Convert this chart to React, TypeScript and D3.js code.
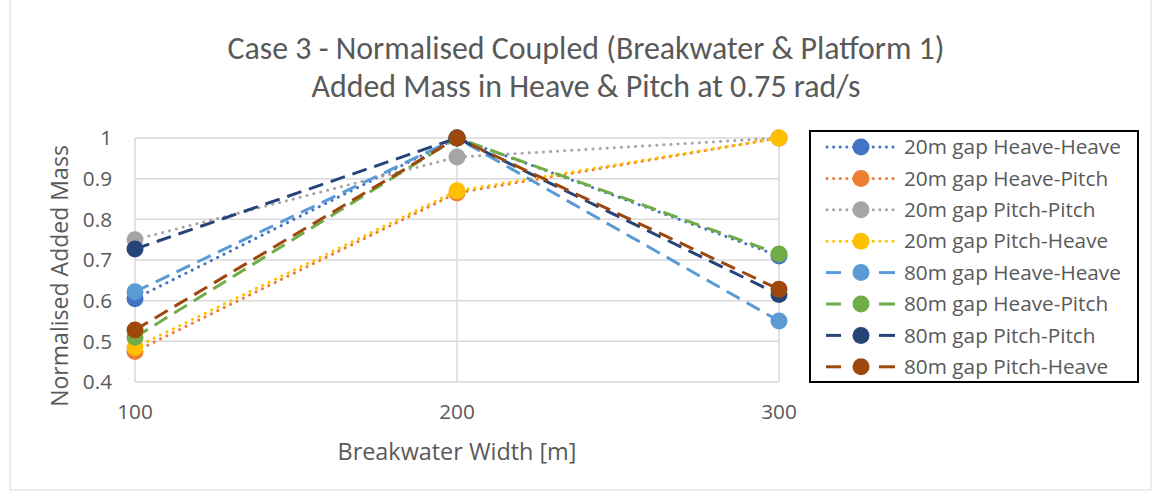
import { useRef, useEffect } from "react";
import * as d3 from "d3";

const widths = [100, 200, 300];
const seriesNames = [
  "20m gap Heave-Heave",
  "20m gap Heave-Pitch",
  "20m gap Pitch-Pitch",
  "20m gap Pitch-Heave",
  "80m gap Heave-Heave",
  "80m gap Heave-Pitch",
  "80m gap Pitch-Pitch",
  "80m gap Pitch-Heave",
];
const gap20HeaveHeave = [0.605, 1, 0.71];
const gap20HeavePitch = [0.475, 0.865, 1];
const gap20PitchPitch = [0.75, 0.953, 1];
const gap20PitchHeave = [0.485, 0.87, 1];
const gap80HeaveHeave = [0.622, 1, 0.55];
const gap80HeavePitch = [0.51, 1, 0.715];
const gap80PitchPitch = [0.727, 1, 0.615];
const gap80PitchHeave = [0.528, 1, 0.628];
const yTicks = [0.4, 0.5, 0.6, 0.7, 0.8, 0.9, 1];

const colors = ["#4472C4", "#ED7D31", "#A5A5A5", "#FFC000", "#5B9BD5", "#70AD47", "#264478", "#9E480E"];

const App = () => {
  const svgRef = useRef<SVGSVGElement>(null);

  useEffect(() => {
    const svg = d3.select(svgRef.current);
    svg.selectAll("*").remove();

    const width = 1161;
    const height = 495;
    const titleFont = "Calibri, Carlito, Lato, sans-serif";
    const bodyFont = "'Open Sans', 'Noto Sans', sans-serif";
    const textColor = "#595959";

    svg.attr("width", width).attr("height", height).style("font-family", bodyFont);

    // scale a text's font size so that it spans the given width
    const fit = (sel: any, target: number) => {
      const base = parseFloat(sel.style("font-size"));
      const len = (sel.node() as SVGTextElement).getComputedTextLength();
      if (len > 0) sel.style("font-size", `${(base * target) / len}px`);
      return (base * target) / len;
    };

    svg.append("rect")
      .attr("x", 10).attr("y", -2).attr("width", 1141).attr("height", 492)
      .attr("fill", "white").attr("stroke", "#d9d9d9");

    const allSeries = [
      gap20HeaveHeave, gap20HeavePitch, gap20PitchPitch, gap20PitchHeave,
      gap80HeaveHeave, gap80HeavePitch, gap80PitchPitch, gap80PitchHeave,
    ];

    const x = d3.scalePoint<number>().domain(widths).range([135, 779]);
    const y = d3.scaleLinear().domain([0.4, 1]).range([382, 138]);

    // title
    const t1 = svg.append("text").attr("x", 586).attr("y", 59).attr("text-anchor", "middle")
      .attr("fill", textColor).style("font-family", titleFont).style("font-size", "24px")
      .text("Case 3 - Normalised Coupled (Breakwater & Platform 1)");
    const titleSize = fit(t1, 717);
    svg.append("text").attr("x", 586).attr("y", 97).attr("text-anchor", "middle")
      .attr("fill", textColor).style("font-family", titleFont).style("font-size", `${titleSize}px`)
      .text("Added Mass in Heave & Pitch at 0.75 rad/s");

    // gridlines
    svg.append("g").selectAll("line").data(yTicks).join("line")
      .attr("x1", 135).attr("x2", 779)
      .attr("y1", (d) => y(d)).attr("y2", (d) => y(d))
      .attr("stroke", "#d9d9d9").attr("stroke-width", 1.5);
    svg.append("g").selectAll("line").data(widths).join("line")
      .attr("x1", (d) => x(d)!).attr("x2", (d) => x(d)!)
      .attr("y1", y(1)).attr("y2", y(0.4))
      .attr("stroke", "#d9d9d9").attr("stroke-width", 1.5);

    // legend text size, measured on the longest entry
    const probe = svg.append("text").style("font-size", "18px").text(seriesNames[0]);
    const labelSize = fit(probe, 217);
    probe.remove();

    // tick labels
    svg.append("g").selectAll("text").data(yTicks).join("text")
      .attr("x", 112).attr("y", (d) => y(d)).attr("dy", "0.35em")
      .attr("text-anchor", "end").attr("fill", textColor).style("font-size", `${labelSize}px`)
      .text((d) => d3.format("~g")(d));
    svg.append("g").selectAll("text").data(widths).join("text")
      .attr("x", (d) => x(d)!).attr("y", 412).attr("dy", "0.35em")
      .attr("text-anchor", "middle").attr("fill", textColor).style("font-size", `${labelSize}px`)
      .text((d) => d);

    const xt = svg.append("text").attr("x", 457).attr("y", 452).attr("dy", "0.35em").attr("text-anchor", "middle")
      .attr("fill", textColor).style("font-size", "20px").text("Breakwater Width [m]");
    fit(xt, 239);
    const yt = svg.append("text").attr("transform", `translate(60, 276) rotate(-90)`).attr("dy", "0.35em")
      .attr("text-anchor", "middle").attr("fill", textColor).style("font-size", "20px")
      .text("Normalised Added Mass");
    fit(yt, 262);

    const line = d3.line<number>().x((_, i) => x(widths[i])!).y((d) => y(d));

    allSeries.forEach((values, i) => {
      const g = svg.append("g");
      g.append("path").datum(values).attr("d", line)
        .attr("fill", "none").attr("stroke", colors[i]).attr("stroke-width", 3)
        .attr("stroke-linecap", i < 4 ? "round" : "butt")
        .attr("stroke-dasharray", i < 4 ? "0.1 7" : "15 8");
      g.selectAll("circle").data(values).join("circle")
        .attr("cx", (_, j) => x(widths[j])!).attr("cy", (d) => y(d))
        .attr("r", 8.5).attr("fill", colors[i]);
    });

    // legend
    const legend = svg.append("g");
    legend.append("rect").attr("x", 810).attr("y", 131).attr("width", 328).attr("height", 251)
      .attr("fill", "white").attr("stroke", "black").attr("stroke-width", 2);
    seriesNames.forEach((name, i) => {
      const ly = 147 + i * 31.4;
      if (i < 4) {
        legend.append("line").attr("x1", 827).attr("x2", 895).attr("y1", ly).attr("y2", ly)
          .attr("stroke", colors[i]).attr("stroke-width", 3)
          .attr("stroke-linecap", "round").attr("stroke-dasharray", "0.1 6.5");
      } else {
        [[826, 841], [879, 895]].forEach(([a, b]) => {
          legend.append("line").attr("x1", a).attr("x2", b).attr("y1", ly).attr("y2", ly)
            .attr("stroke", colors[i]).attr("stroke-width", 3);
        });
      }
      legend.append("circle").attr("cx", 861).attr("cy", ly).attr("r", 8.5).attr("fill", colors[i]);
      legend.append("text").attr("x", 904).attr("y", ly).attr("dy", "0.35em").attr("fill", textColor)
        .style("font-size", `${labelSize}px`).text(name);
    });
  }, []);

  return <svg ref={svgRef} style={{ position: "absolute", left: 0, top: 0 }}></svg>;
};

export default App;
